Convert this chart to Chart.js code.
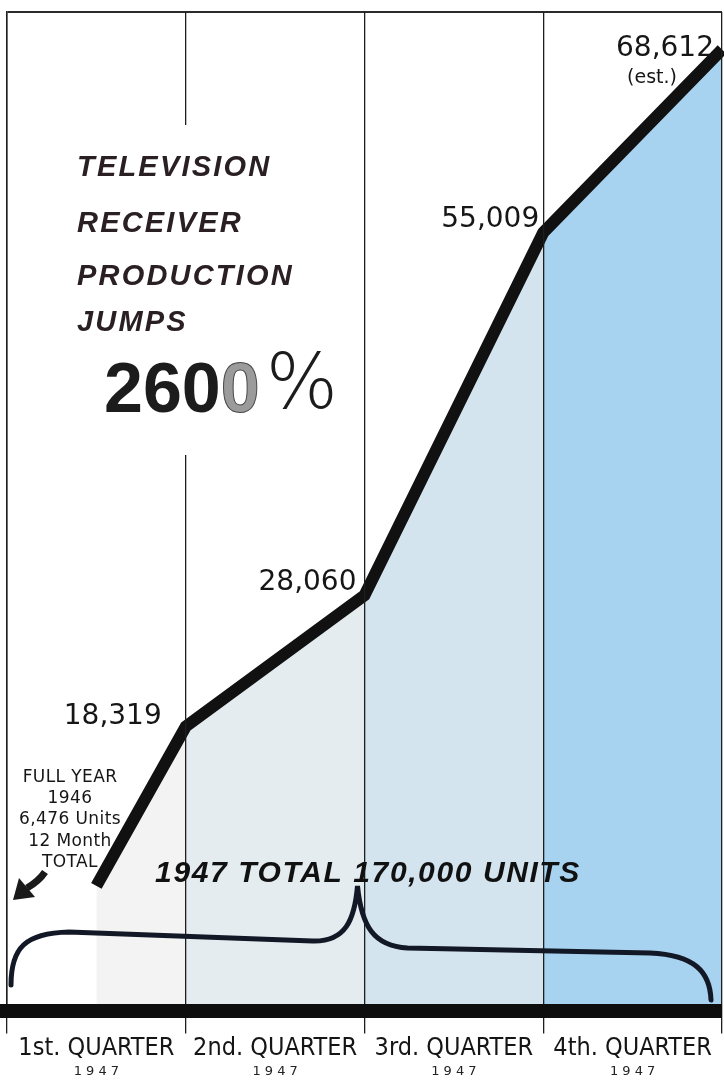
<!DOCTYPE html>
<html>
<head>
<meta charset="utf-8">
<script src="https://cdn.jsdelivr.net/npm/chart.js@4.4.1/dist/chart.umd.min.js"></script>
<style>
  html, body { margin: 0; padding: 0; background: #fff; }
  #wrap { width: 724px; height: 1091px; position: relative; }
</style>
</head>
<body>
<div id="wrap"><canvas id="grafica"></canvas></div>
<script>
// Producción de receptores de TV por trimestre, 1947
const posiciones = [0.5, 1, 2, 3, 4];           // 0.5 = arranque con el total de 1946
const unidades = [6476, 18319, 28060, 55009, 68612];
const etiquetasValor = ['', '18,319', '28,060', '55,009', '68,612'];
const trimestres = ['1st. QUARTER', '2nd. QUARTER', '3rd. QUARTER', '4th. QUARTER'];
const anios = ['1 9 4 7', '1 9 4 7', '1 9 4 7', '1 9 4 7'];
const titulo = ['TELEVISION', 'RECEIVER', 'PRODUCTION', 'JUMPS'];
const notaInicio = ['FULL YEAR', '1946', '6,476 Units', '12 Month', 'TOTAL'];
const totalAnual = '1947 TOTAL 170,000 UNITS';
const aumento = ['2', '6', '0', '0', '%'];

const Y_MIN = -2850, Y_MAX = 71400;
const coloresTrimestre = ['#f2f3f2', '#e5ecef', '#d3e4ee', '#a8d3f0'];

// Relleno con un tono distinto por trimestre (cortes duros en cada límite)
function rellenoTrimestres(context) {
    const chart = context.chart;
    const area = chart.chartArea;
    if (!area) return null;
    const x = chart.scales.x;
    const w = area.right - area.left;
    const g = chart.ctx.createLinearGradient(area.left, 0, area.right, 0);
    const lim = v => Math.max(0, Math.min(1, v));
    coloresTrimestre.forEach((c, i) => {
        g.addColorStop(lim((x.getPixelForValue(i) - area.left) / w), c);
        g.addColorStop(lim((x.getPixelForValue(i + 1) - area.left) / w), c);
    });
    return g;
}

const rotulos = {
    id: 'rotulos',
    afterDraw(chart) {
        const ctx = chart.ctx;
        const x = chart.scales.x;
        const puntos = chart.getDatasetMeta(0).data;
        ctx.save();

        // hueco de la primera división detrás del título
        const g1 = x.getPixelForValue(1);
        ctx.fillStyle = '#fff';
        ctx.fillRect(g1 - 3, 125, 6, 330);

        // título
        ctx.fillStyle = '#2a2023';
        ctx.font = 'italic bold 29px "Liberation Sans", Arial, sans-serif';
        ctx.letterSpacing = '2.2px';
        ctx.textAlign = 'left';
        ctx.textBaseline = 'alphabetic';
        const lineasY = [176, 232, 285, 331];
        titulo.forEach((t, i) => ctx.fillText(t, 77, lineasY[i]));

        // 2600%
        ctx.letterSpacing = '0px';
        ctx.font = 'bold 70px "Liberation Sans", Arial, sans-serif';
        let cx = 104;
        aumento.slice(0, 4).forEach((d, i) => {
            if (i === 3) {
                ctx.fillStyle = '#9b9b9b';
                ctx.fillText(d, cx, 412);
                ctx.strokeStyle = '#4a4a4a';
                ctx.lineWidth = 1;
                ctx.strokeText(d, cx, 412);
            } else {
                ctx.fillStyle = '#1c1c1c';
                ctx.fillText(d, cx, 412);
            }
            cx += ctx.measureText(d).width;
        });
        ctx.fillStyle = '#1c1c1c';
        ctx.font = '200 76px "DejaVu Sans", sans-serif';
        ctx.fillText(aumento[4], cx + 6, 408);

        // valores de cada trimestre
        ctx.font = '28px "DejaVu Sans", sans-serif';
        ctx.textAlign = 'right';
        ctx.fillStyle = '#161616';
        const ajusteX = [0, 24, 8, 4, 8];
        const ajusteY = [0, -2, -5, -6, 6];
        puntos.forEach((p, i) => {
            if (!etiquetasValor[i]) return;
            ctx.fillText(etiquetasValor[i], p.x - ajusteX[i], p.y + ajusteY[i]);
        });
        ctx.font = '19px "DejaVu Sans", sans-serif';
        ctx.textAlign = 'center';
        const ult = puntos[puntos.length - 1];
        ctx.fillText('(est.)', ult.x - 70, ult.y + 33);

        // nota del total de 1946
        ctx.font = '17px "DejaVu Sans", sans-serif';
        ctx.letterSpacing = '0.4px';
        notaInicio.forEach((t, i) => ctx.fillText(t, 70, 782 + i * 21.2));
        ctx.letterSpacing = '0px';

        // flecha hacia abajo a la izquierda
        ctx.strokeStyle = '#1a1a1a';
        ctx.fillStyle = '#1a1a1a';
        ctx.lineWidth = 7;
        ctx.beginPath();
        ctx.moveTo(45, 872);
        ctx.quadraticCurveTo(39, 881, 27, 888);
        ctx.stroke();
        ctx.beginPath();
        ctx.moveTo(13, 900);
        ctx.lineTo(19, 878);
        ctx.lineTo(35, 897);
        ctx.closePath();
        ctx.fill();

        // llave bajo la curva
        const xl = x.getPixelForValue(0) + 4;
        const xm = x.getPixelForValue(2) - 7;
        const xr = x.getPixelForValue(4) - 12;
        ctx.strokeStyle = '#121826';
        ctx.lineWidth = 5;
        ctx.lineCap = 'round';
        ctx.beginPath();
        ctx.moveTo(xl, 985);
        ctx.bezierCurveTo(xl, 948, xl + 14, 933, xl + 58, 932);
        ctx.lineTo(xm - 45, 941);
        ctx.bezierCurveTo(xm - 12, 942, xm - 3, 920, xm, 886);
        ctx.bezierCurveTo(xm + 4, 926, xm + 16, 946, xm + 50, 948);
        ctx.lineTo(xr - 60, 953);
        ctx.bezierCurveTo(xr - 15, 955, xr, 972, xr + 1, 1000);
        ctx.stroke();

        // total del año
        ctx.fillStyle = '#111';
        ctx.font = 'italic bold 30px "Liberation Sans", Arial, sans-serif';
        ctx.letterSpacing = '1.6px';
        ctx.textAlign = 'center';
        ctx.fillText(totalAnual, 368, 882);

        ctx.restore();
    }
};

const fuenteTrimestre = { family: '"Liberation Sans Narrow", "DejaVu Sans Condensed", "Liberation Sans", sans-serif', size: 25 };

new Chart(document.getElementById('grafica').getContext('2d'), {
    type: 'line',
    data: {
        datasets: [{
            data: posiciones.map((p, i) => ({ x: p, y: unidades[i] })),
            borderColor: '#111',
            borderWidth: 12,
            borderJoinStyle: 'miter',
            borderCapStyle: 'butt',
            backgroundColor: rellenoTrimestres,
            fill: 'start',
            pointRadius: 0,
            tension: 0,
            clip: false
        }]
    },
    options: {
        responsive: true,
        maintainAspectRatio: false,
        animation: false,
        layout: { padding: { left: 7, top: 12, right: 2, bottom: 12 } },
        plugins: { legend: { display: false }, tooltip: { enabled: false } },
        scales: {
            x: {
                type: 'linear', position: 'bottom', min: 0, max: 4,
                afterBuildTicks: s => { s.ticks = [0, 1, 2, 3, 4].map(v => ({ value: v })); },
                ticks: { display: false },
                grid: { z: 1, color: '#1e1e1e', lineWidth: 1.3, drawTicks: true, tickLength: 22, tickColor: '#1e1e1e', tickWidth: 1.3 },
                border: { z: 1, display: true, color: '#0e0e0e', width: 14 }
            },
            xq: {
                type: 'linear', position: 'bottom', min: 0, max: 4,
                afterBuildTicks: s => { s.ticks = trimestres.map((t, i) => ({ value: i + 0.5 })); },
                grid: { display: false, drawTicks: false },
                border: { display: false },
                ticks: { callback: (v, i) => trimestres[i], font: fuenteTrimestre, color: '#151515', padding: 0, maxRotation: 0, autoSkip: false }
            },
            xa: {
                type: 'linear', position: 'bottom', min: 0, max: 4,
                afterBuildTicks: s => { s.ticks = anios.map((t, i) => ({ value: i + 0.5 })); },
                grid: { display: false, drawTicks: false },
                border: { display: false },
                ticks: { callback: (v, i) => anios[i], font: { family: '"DejaVu Sans", sans-serif', size: 13 }, color: '#222', padding: 0, maxRotation: 0, autoSkip: false }
            },
            y: {
                type: 'linear', min: Y_MIN, max: Y_MAX,
                afterBuildTicks: s => { s.ticks = [{ value: Y_MAX }]; },
                ticks: { display: false },
                grid: { color: '#2a2a2a', lineWidth: 2, drawTicks: false },
                border: { color: '#1e1e1e', width: 1.5 }
            }
        }
    },
    plugins: [rotulos]
});
</script>
</body>
</html>
